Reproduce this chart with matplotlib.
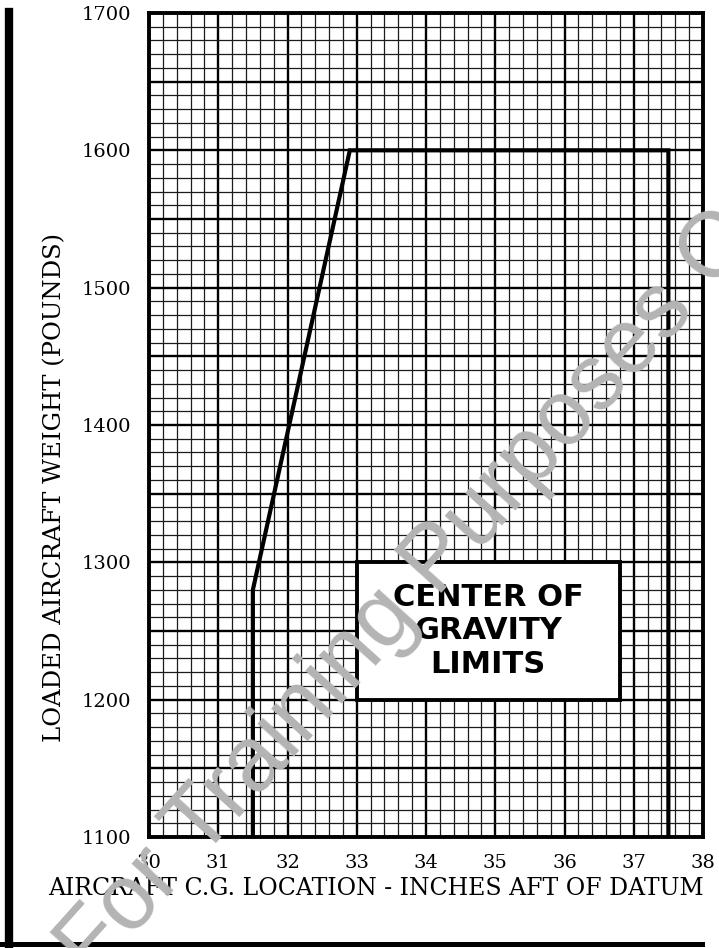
import matplotlib
matplotlib.use("Agg")
import matplotlib.pyplot as plt
from matplotlib.lines import Line2D
from matplotlib.patches import Rectangle
from matplotlib.ticker import FuncFormatter, MultipleLocator

# CG envelope (inches aft of datum vs loaded weight in pounds)
cg_limit_x = [31.5, 31.5, 32.9, 37.5, 37.5]
cg_limit_w = [1100, 1280, 1600, 1600, 1100]

x_ticks = [30, 31, 32, 33, 34, 35, 36, 37, 38]
y_ticks = [1100, 1200, 1300, 1400, 1500, 1600, 1700]

label_box_x = [33.0, 36.8]
label_box_w = [1200, 1300]
label_text = "CENTER OF\nGRAVITY\nLIMITS"

W, H = 719, 948
fig = plt.figure(figsize=(W / 100, H / 100), dpi=100)
ax = fig.add_axes([149 / W, 1 - 837 / H, 554 / W, 824 / H])

ax.set_xlim(x_ticks[0], x_ticks[-1])
ax.set_ylim(y_ticks[0], y_ticks[-1])

# graph paper: heavy lines every inch / 50 lb, light every 0.2 in / 10 lb
ax.xaxis.set_major_locator(MultipleLocator(1))
ax.xaxis.set_minor_locator(MultipleLocator(0.2))
ax.yaxis.set_major_locator(MultipleLocator(50))
ax.yaxis.set_minor_locator(MultipleLocator(10))
ax.yaxis.set_major_formatter(
    FuncFormatter(lambda v, _: f"{int(round(v))}" if int(round(v)) in y_ticks else ""))
ax.xaxis.set_major_formatter(FuncFormatter(lambda v, _: f"{int(round(v))}"))

ax.set_axisbelow(True)
ax.grid(which="major", color="black", lw=1.7)
ax.grid(which="minor", color="#1c1c1c", lw=0.9)
ax.tick_params(which="both", length=0)
ax.tick_params(axis="x", pad=12)
ax.tick_params(axis="y", pad=13)
for lab in ax.get_xticklabels() + ax.get_yticklabels():
    lab.set_fontfamily("DejaVu Serif")
    lab.set_fontsize(14)
for sp in ax.spines.values():
    sp.set_linewidth(2.8)

ax.plot(cg_limit_x, cg_limit_w, color="black", lw=3.0, solid_joinstyle="miter", zorder=3)

ax.add_patch(Rectangle((label_box_x[0], label_box_w[0]),
                       label_box_x[1] - label_box_x[0],
                       label_box_w[1] - label_box_w[0],
                       facecolor="white", edgecolor="black", lw=2.8, zorder=4))
ax.text(sum(label_box_x) / 2, sum(label_box_w) / 2, label_text,
        ha="center", va="center", fontsize=22, fontweight="bold",
        family="DejaVu Sans", linespacing=1.2, zorder=5)

ax.set_xlabel("AIRCRAFT C.G. LOCATION - INCHES AFT OF DATUM",
              family="DejaVu Serif", fontsize=17, va="center")
ax.xaxis.set_label_coords(0.41, -0.062)
ax.set_ylabel("LOADED AIRCRAFT WEIGHT (POUNDS)",
              family="DejaVu Serif", fontsize=17.5, va="center")
ax.yaxis.set_label_coords(-0.17, 0.424)

# page frame
fig.add_artist(Line2D([9 / W, 9 / W], [1 - 12 / H, 0], lw=6, color="black"))
fig.add_artist(Line2D([0, 702 / W], [1 - 944 / H, 1 - 944 / H], lw=3.6, color="black"))

# watermark
fig.text(448 / W, 1 - 550 / H, "For Training Purposes Only", rotation=48,
         rotation_mode="anchor", ha="center", va="center", fontsize=66,
         family="Liberation Sans", color="#b4b4b4", zorder=10)

fig.savefig("out.png", dpi=100)
